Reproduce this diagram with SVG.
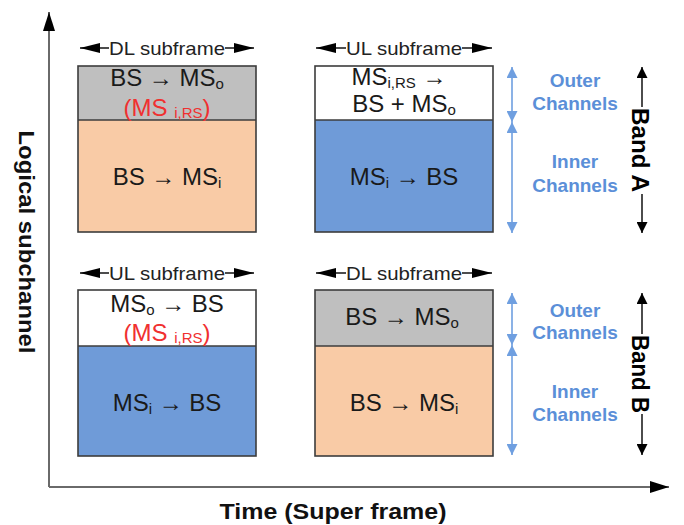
<svg xmlns="http://www.w3.org/2000/svg" width="684" height="525" viewBox="0 0 684 525">
  <defs>
    <marker id="headBlack" viewBox="0 0 10 10" refX="10" refY="5" markerUnits="userSpaceOnUse" markerWidth="20" markerHeight="10" orient="auto-start-reverse" preserveAspectRatio="none">
      <path d="M0,0 L10,5 L0,10 z" fill="#000"/>
    </marker>
    <marker id="headSmall" viewBox="0 0 10 10" refX="10" refY="5" markerUnits="userSpaceOnUse" markerWidth="11" markerHeight="11" orient="auto-start-reverse" preserveAspectRatio="none">
      <path d="M0,0 L10,5 L0,10 z" fill="#000"/>
    </marker>
    <marker id="headBlue" viewBox="0 0 10 10" refX="10" refY="5" markerUnits="userSpaceOnUse" markerWidth="11" markerHeight="11" orient="auto-start-reverse" preserveAspectRatio="none">
      <path d="M0,0 L10,5 L0,10 z" fill="#6f9fe0"/>
    </marker>
    <marker id="headAxis" viewBox="0 0 10 10" refX="10" refY="5" markerUnits="userSpaceOnUse" markerWidth="19" markerHeight="12" orient="auto-start-reverse" preserveAspectRatio="none">
      <path d="M0,0 L10,5 L0,10 z" fill="#000"/>
    </marker>
  </defs>
  <style>
    text { font-family: "Liberation Sans", Arial, sans-serif; }
    .box { stroke: #3c3c3c; stroke-width: 1.6; }
    .gray { fill: #bfbfbf; }
    .peach { fill: #f9cba6; }
    .blue { fill: #6f9bd8; }
    .white { fill: #ffffff; }
    .lbl { font-size: 24px; fill: #1a1a1a; text-anchor: middle; }
    .red { font-size: 24px; fill: #f03030; text-anchor: middle; }
    .sub { font-size: 15px; }
    .frame { font-size: 19px; fill: #222; text-anchor: middle; }
    .chan { font-size: 19px; font-weight: bold; fill: #5b8fd8; text-anchor: middle; }
    .band { font-size: 23px; font-weight: bold; fill: #000; text-anchor: middle; }
    .axis-label { font-size: 22px; font-weight: bold; fill: #111; text-anchor: middle; }
    .ln { fill: none; stroke: #000; stroke-width: 1.4; }
    .bl { fill: none; stroke: #6f9fe0; stroke-width: 1.6; }
    .ax { fill: none; stroke: #6a6a6a; stroke-width: 2; }
  </style>

  <!-- connectors: axes, subframe spans and band spans -->
  <g id="connectors">
    <path class="ax" d="M49,487 V12" marker-end="url(#headAxis)"/>
    <path class="ax" d="M49,487 H669" marker-end="url(#headAxis)"/>

    <!-- subframe spans -->
    <path class="ln" d="M109,48 H80" marker-end="url(#headBlack)"/>
    <path class="ln" d="M225,48 H254" marker-end="url(#headBlack)"/>
    <path class="ln" d="M346,48 H316" marker-end="url(#headBlack)"/>
    <path class="ln" d="M462,48 H492" marker-end="url(#headBlack)"/>
    <path class="ln" d="M109,273 H80" marker-end="url(#headBlack)"/>
    <path class="ln" d="M225,273 H254" marker-end="url(#headBlack)"/>
    <path class="ln" d="M346,273 H316" marker-end="url(#headBlack)"/>
    <path class="ln" d="M462,273 H492" marker-end="url(#headBlack)"/>

    <!-- channel spans, band A -->
    <path class="bl" d="M512,67 V122" marker-start="url(#headBlue)" marker-end="url(#headBlue)"/>
    <path class="bl" d="M512,122 V233" marker-start="url(#headBlue)" marker-end="url(#headBlue)"/>
    <path class="ln" d="M642,107 V67" marker-end="url(#headSmall)"/>
    <path class="ln" d="M642,194 V233" marker-end="url(#headSmall)"/>

    <!-- channel spans, band B -->
    <path class="bl" d="M512,293 V345" marker-start="url(#headBlue)" marker-end="url(#headBlue)"/>
    <path class="bl" d="M512,345 V455" marker-start="url(#headBlue)" marker-end="url(#headBlue)"/>
    <path class="ln" d="M642,334 V293" marker-end="url(#headSmall)"/>
    <path class="ln" d="M642,414 V455" marker-end="url(#headSmall)"/>
  </g>

  <!-- top-left: DL subframe -->
  <g id="dl-band-a">
    <text class="frame" x="167" y="55" textLength="116" lengthAdjust="spacingAndGlyphs">DL subframe</text>
    <rect class="gray" x="78" y="66" width="178" height="54"/>
    <rect class="peach" x="78" y="120" width="178" height="112"/>
    <rect class="box" x="78" y="66" width="178" height="166" fill="none"/>
    <line class="box" x1="78" y1="120" x2="256" y2="120"/>
    <text class="lbl" x="167" y="86">BS → MS<tspan class="sub" dy="3">o</tspan></text>
    <text class="red" x="167" y="116">(MS <tspan class="sub" dy="2">i,RS</tspan><tspan dy="-2">)</tspan></text>
    <text class="lbl" x="167" y="185">BS → MS<tspan class="sub" dy="3">i</tspan></text>
  </g>

  <!-- top-right: UL subframe -->
  <g id="ul-band-a">
    <text class="frame" x="404" y="55" textLength="116" lengthAdjust="spacingAndGlyphs">UL subframe</text>
    <rect class="white" x="315" y="66" width="178" height="54"/>
    <rect class="blue" x="315" y="120" width="178" height="112"/>
    <rect class="box" x="315" y="66" width="178" height="166" fill="none"/>
    <line class="box" x1="315" y1="120" x2="493" y2="120"/>
    <text class="lbl" x="399" y="85">MS<tspan class="sub" dy="3">i,RS</tspan><tspan dy="-3"> →</tspan></text>
    <text class="lbl" x="404" y="112">BS + MS<tspan class="sub" dy="3">o</tspan></text>
    <text class="lbl" x="404" y="185">MS<tspan class="sub" dy="3">i</tspan><tspan dy="-3"> → BS</tspan></text>
  </g>

  <!-- bottom-left: UL subframe -->
  <g id="ul-band-b">
    <text class="frame" x="167" y="280" textLength="116" lengthAdjust="spacingAndGlyphs">UL subframe</text>
    <rect class="white" x="78" y="290" width="178" height="56"/>
    <rect class="blue" x="78" y="346" width="178" height="110"/>
    <rect class="box" x="78" y="290" width="178" height="166" fill="none"/>
    <line class="box" x1="78" y1="346" x2="256" y2="346"/>
    <text class="lbl" x="167" y="312">MS<tspan class="sub" dy="3">o</tspan><tspan dy="-3"> → BS</tspan></text>
    <text class="red" x="167" y="341">(MS <tspan class="sub" dy="2">i,RS</tspan><tspan dy="-2">)</tspan></text>
    <text class="lbl" x="167" y="411">MS<tspan class="sub" dy="3">i</tspan><tspan dy="-3"> → BS</tspan></text>
  </g>

  <!-- bottom-right: DL subframe -->
  <g id="dl-band-b">
    <text class="frame" x="404" y="280" textLength="116" lengthAdjust="spacingAndGlyphs">DL subframe</text>
    <rect class="gray" x="315" y="290" width="178" height="56"/>
    <rect class="peach" x="315" y="346" width="178" height="110"/>
    <rect class="box" x="315" y="290" width="178" height="166" fill="none"/>
    <line class="box" x1="315" y1="346" x2="493" y2="346"/>
    <text class="lbl" x="402" y="325">BS → MS<tspan class="sub" dy="3">o</tspan></text>
    <text class="lbl" x="404" y="411">BS → MS<tspan class="sub" dy="3">i</tspan></text>
  </g>

  <!-- channel and band labels -->
  <g id="band-a-labels">
    <text class="chan" x="575" y="87">Outer</text>
    <text class="chan" x="575" y="110">Channels</text>
    <text class="chan" x="575" y="168">Inner</text>
    <text class="chan" x="575" y="192">Channels</text>
    <text class="band" transform="translate(632,150) rotate(90)" textLength="84" lengthAdjust="spacingAndGlyphs">Band A</text>
  </g>
  <g id="band-b-labels">
    <text class="chan" x="575" y="317">Outer</text>
    <text class="chan" x="575" y="339">Channels</text>
    <text class="chan" x="575" y="398">Inner</text>
    <text class="chan" x="575" y="421">Channels</text>
    <text class="band" transform="translate(632,374) rotate(90)" textLength="78" lengthAdjust="spacingAndGlyphs">Band B</text>
  </g>

  <!-- axis titles -->
  <g id="axis-titles">
    <text class="axis-label" transform="translate(19,242) rotate(90)" textLength="223" lengthAdjust="spacingAndGlyphs">Logical subchannel</text>
    <text class="axis-label" x="333" y="519" textLength="227" lengthAdjust="spacingAndGlyphs">Time (Super frame)</text>
  </g>
</svg>
